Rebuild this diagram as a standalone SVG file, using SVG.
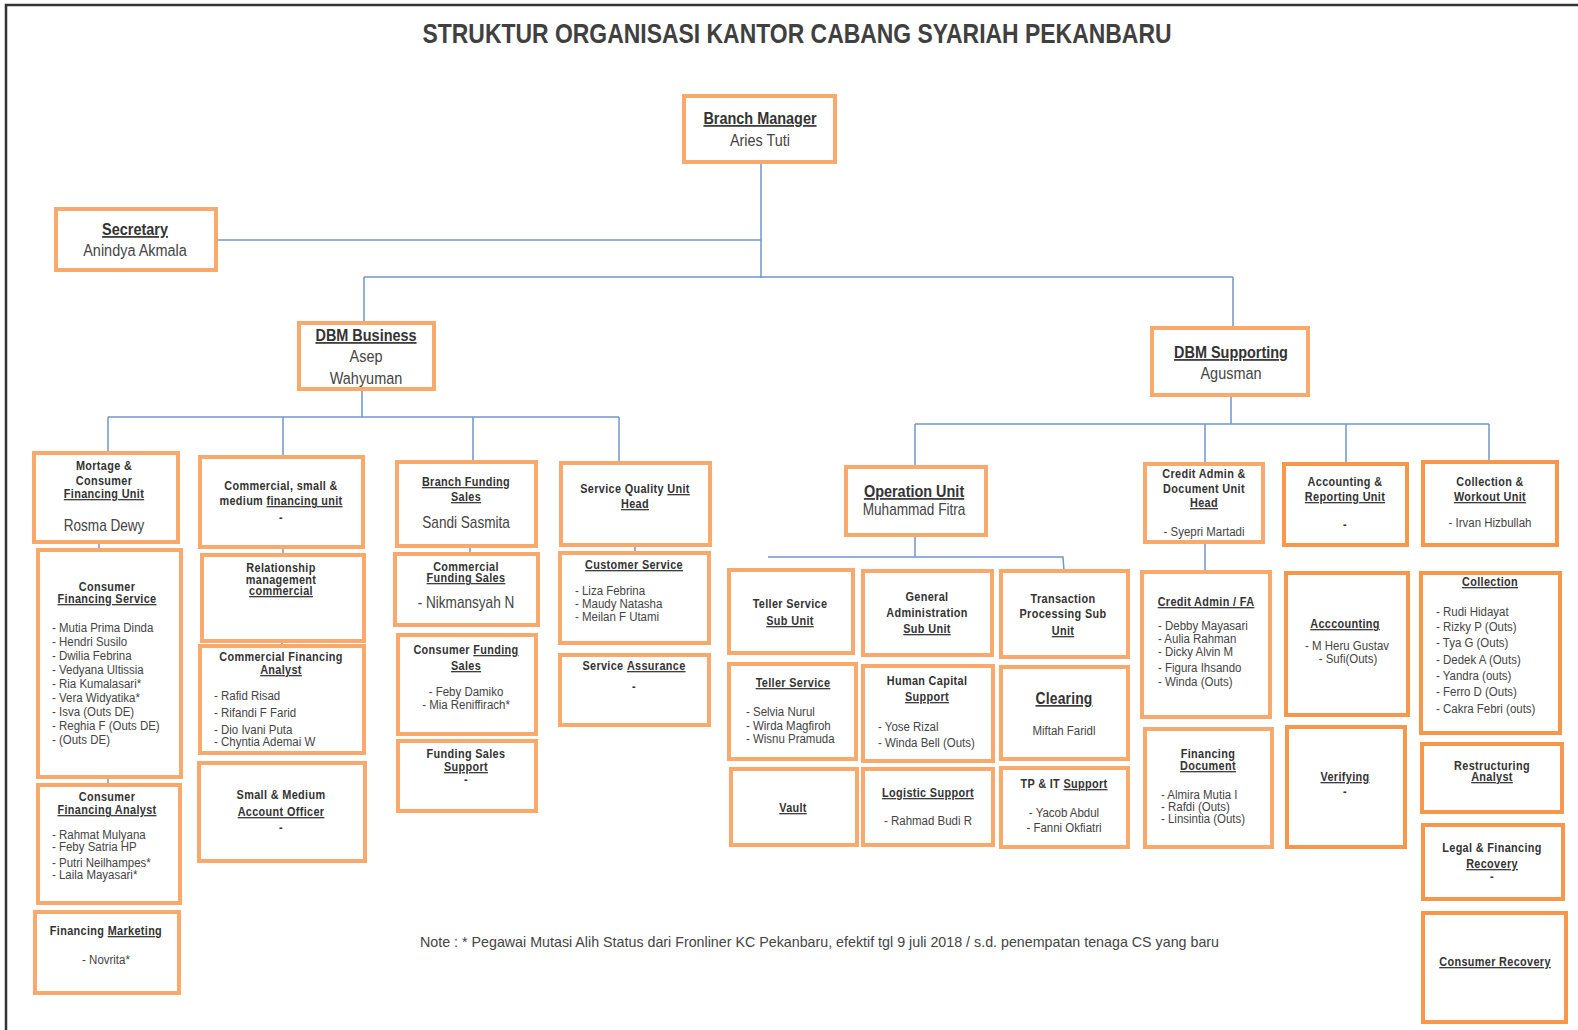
<svg xmlns="http://www.w3.org/2000/svg" width="1578" height="1030" viewBox="0 0 1578 1030">
<style>
.box{fill:#fff;stroke:#F8A96B;stroke-width:4}
.dk{stroke:#F7974C}
.ln{stroke:#6F98CC;stroke-width:1.5;fill:none}
text{transform-box:fill-box}
.h{font-family:"Liberation Sans",Arial,sans-serif;font-weight:bold;font-size:12.5px;fill:#333;letter-spacing:0.4px;text-anchor:middle;transform-origin:50% 50%;transform:scaleX(0.87)}
.n{font-family:"Liberation Sans",Arial,sans-serif;font-size:13.5px;fill:#444;transform-origin:0% 50%;transform:scaleX(0.85)}
.c{text-anchor:middle;transform-origin:50% 50%}
.big{font-size:17px;transform:scaleX(0.85)}
.mid{font-size:16px}
.u{text-decoration:underline}
</style>
<rect width="1578" height="1030" fill="#fff"/>
<path d="M6,1030 V5 H1578" fill="none" stroke="#333" stroke-width="2.5"/>
<text x="797" y="43" font-family="'Liberation Sans',Arial,sans-serif" font-weight="bold" font-size="28" fill="#404040" text-anchor="middle" textLength="749" lengthAdjust="spacingAndGlyphs">STRUKTUR ORGANISASI KANTOR CABANG SYARIAH PEKANBARU</text>

<g id="connectors">
<path class="ln" d="M761,162 V278 M216,240 H761 M364,277 H1233 M364,277 V323 M1233,277 V328"/>
<path class="ln" d="M362,389 V417 M108,417 H619 M108,417 V453 M283,417 V457 M473,417 V462 M619,417 V468"/>
<path class="ln" d="M99,542 V552 M108,777 V785 M283,547 V558 M282,641 V646 M470,532 V563 M470,739 V762 M635,545 V553"/>
<path class="ln" d="M1231,395 V424 M915,424 H1489 M915,424 V467 M1205,424 V464 M1346,424 V464 M1489,424 V462"/>
<path class="ln" d="M915,535 V557 M768,557 H1063 L1064,571 M1205,542 V573"/>
</g>

<g id="branch-manager">
<rect class="box" x="684" y="96" width="151" height="66"/>
<text class="h big u" x="760" y="124" style="letter-spacing:0">Branch Manager</text>
<text class="n big c" x="760" y="146">Aries  Tuti</text>
</g>
<g id="secretary">
<rect class="box" x="56" y="209" width="160" height="61"/>
<text class="h big u" x="135" y="235" style="letter-spacing:0">Secretary</text>
<text class="n big c" x="135" y="256">Anindya Akmala</text>
</g>
<g id="dbm-business">
<rect class="box" x="299" y="323" width="135" height="66"/>
<text class="h big u" x="366" y="341" style="letter-spacing:0">DBM Business</text>
<text class="n big c" x="366" y="362">Asep</text>
<text class="n big c" x="366" y="384">Wahyuman</text>
</g>
<g id="dbm-supporting">
<rect class="box" x="1152" y="328" width="156" height="67"/>
<text class="h big u" x="1231" y="358" style="letter-spacing:0">DBM Supporting</text>
<text class="n big c" x="1231" y="379">Agusman</text>
</g>

<g id="mortgage-unit">
<rect class="box" x="34" y="453" width="144" height="89"/>
<text class="h" x="104" y="470">Mortage &amp;</text>
<text class="h" x="104" y="485">Consumer</text>
<text class="h u" x="104" y="498">Financing Unit</text>
<text class="n mid c" x="104" y="531">Rosma Dewy</text>
</g>
<g id="consumer-financing-service">
<rect class="box" x="38" y="550" width="143" height="227"/>
<text class="h" x="107" y="591">Consumer</text>
<text class="h u" x="107" y="603">Financing Service</text>
<text class="n" x="52" y="632">- Mutia Prima Dinda</text>
<text class="n" x="52" y="646">- Hendri  Susilo</text>
<text class="n" x="52" y="660">- Dwilia Febrina</text>
<text class="n" x="52" y="674">- Vedyana  Ultissia</text>
<text class="n" x="52" y="688">- Ria Kumalasari*</text>
<text class="n" x="52" y="702">- Vera  Widyatika*</text>
<text class="n" x="52" y="716">- Isva (Outs  DE)</text>
<text class="n" x="52" y="730">- Reghia  F (Outs  DE)</text>
<text class="n" x="52" y="744">- (Outs  DE)</text>
</g>
<g id="consumer-financing-analyst">
<rect class="box" x="38" y="785" width="142" height="118"/>
<text class="h" x="107" y="801">Consumer</text>
<text class="h u" x="107" y="814">Financing Analyst</text>
<text class="n" x="52" y="839">- Rahmat  Mulyana</text>
<text class="n" x="52" y="851">- Feby Satria  HP</text>
<text class="n" x="52" y="867">- Putri  Neilhampes*</text>
<text class="n" x="52" y="879">- Laila Mayasari*</text>
</g>
<g id="financing-marketing">
<rect class="box" x="35" y="912" width="144" height="81"/>
<text class="h" x="106" y="935">Financing <tspan class="u">Marketing</tspan></text>
<text class="n c" x="106" y="964">- Novrita*</text>
</g>

<g id="commercial-unit">
<rect class="box" x="200" y="457" width="163" height="90"/>
<text class="h" x="281" y="490">Commercial, small &amp;</text>
<text class="h" x="281" y="505">medium <tspan class="u">financing unit</tspan></text>
<text class="h" x="281" y="522">-</text>
</g>
<g id="relationship-management">
<rect class="box" x="202" y="555" width="162" height="86"/>
<text class="h" x="281" y="572">Relationship</text>
<text class="h" x="281" y="584">management</text>
<text class="h u" x="281" y="595">commercial</text>
</g>
<g id="commercial-financing-analyst">
<rect class="box" x="200" y="646" width="164" height="107"/>
<text class="h" x="281" y="661">Commercial Financing</text>
<text class="h u" x="281" y="674">Analyst</text>
<text class="n" x="214" y="700">- Rafid  Risad</text>
<text class="n" x="214" y="717">- Rifandi  F Farid</text>
<text class="n" x="214" y="734">- Dio Ivani  Puta</text>
<text class="n" x="214" y="746">- Chyntia  Ademai  W</text>
</g>
<g id="account-officer">
<rect class="box" x="199" y="763" width="166" height="98"/>
<text class="h" x="281" y="799">Small &amp; Medium</text>
<text class="h u" x="281" y="816">Account Officer</text>
<text class="h" x="281" y="832">-</text>
</g>

<g id="branch-funding-sales">
<rect class="box" x="397" y="462" width="139" height="84"/>
<text class="h u" x="466" y="486">Branch Funding</text>
<text class="h u" x="466" y="501">Sales</text>
<text class="n mid c" x="466" y="528">Sandi Sasmita</text>
</g>
<g id="commercial-funding-sales">
<rect class="box" x="395" y="554" width="143" height="71"/>
<text class="h" x="466" y="571">Commercial</text>
<text class="h u" x="466" y="582">Funding Sales</text>
<text class="n mid c" x="466" y="608">- Nikmansyah N</text>
</g>
<g id="consumer-funding-sales">
<rect class="box" x="398" y="635" width="138" height="99"/>
<text class="h" x="466" y="654">Consumer <tspan class="u">Funding</tspan></text>
<text class="h u" x="466" y="670">Sales</text>
<text class="n c" x="466" y="696">- Feby Damiko</text>
<text class="n c" x="466" y="709">- Mia Reniffirach*</text>
</g>
<g id="funding-sales-support">
<rect class="box" x="398" y="741" width="138" height="70"/>
<text class="h" x="466" y="758">Funding Sales</text>
<text class="h u" x="466" y="771">Support</text>
<text class="h" x="466" y="784">-</text>
</g>

<g id="service-quality-head">
<rect class="box" x="561" y="463" width="149" height="82"/>
<text class="h" x="635" y="493">Service Quality <tspan class="u">Unit</tspan></text>
<text class="h u" x="635" y="508">Head</text>
</g>
<g id="customer-service">
<rect class="box" x="560" y="553" width="149" height="90"/>
<text class="h u" x="634" y="569">Customer Service</text>
<text class="n" x="575" y="595">- Liza Febrina</text>
<text class="n" x="575" y="608">- Maudy  Natasha</text>
<text class="n" x="575" y="621">- Meilan F Utami</text>
</g>
<g id="service-assurance">
<rect class="box" x="560" y="655" width="149" height="70"/>
<text class="h" x="634" y="670">Service <tspan class="u">Assurance</tspan></text>
<text class="h" x="634" y="691">-</text>
</g>

<g id="operation-unit">
<rect class="box" x="846" y="467" width="140" height="68"/>
<text class="h big u" x="914" y="497" style="letter-spacing:0">Operation Unit</text>
<text class="n mid c" x="914" y="515">Muhammad Fitra</text>
</g>
<g id="teller-service-sub-unit">
<rect class="box" x="729" y="570" width="124" height="83"/>
<text class="h" x="790" y="608">Teller Service</text>
<text class="h u" x="790" y="625">Sub Unit</text>
</g>
<g id="general-administration">
<rect class="box" x="863" y="571" width="129" height="84"/>
<text class="h" x="927" y="601">General</text>
<text class="h" x="927" y="617">Administration</text>
<text class="h u" x="927" y="633">Sub Unit</text>
</g>
<g id="transaction-processing">
<rect class="box" x="1001" y="571" width="127" height="86"/>
<text class="h" x="1063" y="603">Transaction</text>
<text class="h" x="1063" y="618">Processing Sub</text>
<text class="h u" x="1063" y="635">Unit</text>
</g>
<g id="teller-service">
<rect class="box" x="729" y="664" width="127" height="95"/>
<text class="h u" x="793" y="687">Teller Service</text>
<text class="n" x="746" y="716">- Selvia Nurul</text>
<text class="n" x="746" y="730">- Wirda  Magfiroh</text>
<text class="n" x="746" y="743">- Wisnu  Pramuda</text>
</g>
<g id="human-capital-support">
<rect class="box" x="863" y="666" width="130" height="95"/>
<text class="h" x="927" y="685">Human Capital</text>
<text class="h u" x="927" y="701">Support</text>
<text class="n" x="878" y="731">- Yose Rizal</text>
<text class="n" x="878" y="747">- Winda Bell (Outs)</text>
</g>
<g id="clearing">
<rect class="box" x="1001" y="667" width="127" height="92"/>
<text class="h mid u" x="1064" y="704" style="letter-spacing:0.2px">Clearing</text>
<text class="n c" x="1064" y="735">Miftah  Faridl</text>
</g>
<g id="vault">
<rect class="box" x="731" y="769" width="126" height="76"/>
<text class="h u" x="793" y="812">Vault</text>
</g>
<g id="logistic-support">
<rect class="box" x="863" y="769" width="130" height="76"/>
<text class="h u" x="928" y="797">Logistic Support</text>
<text class="n c" x="928" y="825">- Rahmad  Budi R</text>
</g>
<g id="tp-it-support">
<rect class="box" x="1001" y="768" width="127" height="79"/>
<text class="h" x="1064" y="788">TP &amp; IT <tspan class="u">Support</tspan></text>
<text class="n c" x="1064" y="817">- Yacob Abdul</text>
<text class="n c" x="1064" y="832">- Fanni Okfiatri</text>
</g>

<g id="credit-admin-head">
<rect class="box" x="1145" y="464" width="118" height="78"/>
<text class="h" x="1204" y="478">Credit Admin &amp;</text>
<text class="h" x="1204" y="493">Document Unit</text>
<text class="h u" x="1204" y="507">Head</text>
<text class="n c" x="1204" y="536">- Syepri Martadi</text>
</g>
<g id="credit-admin-fa">
<rect class="box" x="1142" y="572" width="128" height="145"/>
<text class="h u" x="1206" y="606">Credit Admin / FA</text>
<text class="n" x="1158" y="630">- Debby  Mayasari</text>
<text class="n" x="1158" y="643">- Aulia Rahman</text>
<text class="n" x="1158" y="656">- Dicky Alvin M</text>
<text class="n" x="1158" y="672">- Figura Ihsando</text>
<text class="n" x="1158" y="686">- Winda (Outs)</text>
</g>
<g id="financing-document">
<rect class="box" x="1145" y="729" width="127" height="118"/>
<text class="h" x="1208" y="758">Financing</text>
<text class="h u" x="1208" y="770">Document</text>
<text class="n" x="1161" y="799">- Almira Mutia  I</text>
<text class="n" x="1161" y="811">- Rafdi  (Outs)</text>
<text class="n" x="1161" y="823">- Linsintia (Outs)</text>
</g>
<g id="accounting-reporting">
<rect class="box dk" x="1284" y="464" width="123" height="81"/>
<text class="h" x="1345" y="486">Accounting &amp;</text>
<text class="h u" x="1345" y="501">Reporting Unit</text>
<text class="h" x="1345" y="529">-</text>
</g>
<g id="accounting">
<rect class="box dk" x="1286" y="573" width="122" height="142"/>
<text class="h u" x="1345" y="628">Acccounting</text>
<text class="n c" x="1347" y="650">- M Heru  Gustav</text>
<text class="n c" x="1348" y="663">- Sufi(Outs)</text>
</g>
<g id="verifying">
<rect class="box dk" x="1287" y="727" width="118" height="120"/>
<text class="h u" x="1345" y="781">Verifying</text>
<text class="h" x="1345" y="796">-</text>
</g>
<g id="collection-workout">
<rect class="box dk" x="1423" y="462" width="134" height="83"/>
<text class="h" x="1490" y="486">Collection &amp;</text>
<text class="h u" x="1490" y="501">Workout Unit</text>
<text class="n c" x="1490" y="527">- Irvan Hizbullah</text>
</g>
<g id="collection">
<rect class="box dk" x="1421" y="573" width="139" height="160"/>
<text class="h u" x="1490" y="586">Collection</text>
<text class="n" x="1436" y="616">- Rudi  Hidayat</text>
<text class="n" x="1436" y="631">- Rizky P (Outs)</text>
<text class="n" x="1436" y="647">- Tya G (Outs)</text>
<text class="n" x="1436" y="664">- Dedek  A (Outs)</text>
<text class="n" x="1436" y="680">- Yandra  (outs)</text>
<text class="n" x="1436" y="696">- Ferro  D  (Outs)</text>
<text class="n" x="1436" y="713">- Cakra  Febri  (outs)</text>
</g>
<g id="restructuring-analyst">
<rect class="box dk" x="1422" y="744" width="140" height="68"/>
<text class="h" x="1492" y="770">Restructuring</text>
<text class="h u" x="1492" y="781">Analyst</text>
</g>
<g id="legal-financing-recovery">
<rect class="box dk" x="1423" y="825" width="140" height="74"/>
<text class="h" x="1492" y="852">Legal &amp; Financing</text>
<text class="h u" x="1492" y="868">Recovery</text>
<text class="h" x="1492" y="881">-</text>
</g>
<g id="consumer-recovery">
<rect class="box dk" x="1423" y="913" width="143" height="109"/>
<text class="h u" x="1495" y="966">Consumer Recovery</text>
</g>

<text x="420" y="947" font-family="'Liberation Sans',Arial,sans-serif" font-size="15" fill="#444" textLength="799" lengthAdjust="spacingAndGlyphs">Note :  *  Pegawai Mutasi Alih Status dari Fronliner KC Pekanbaru, efektif tgl 9 juli 2018 / s.d. penempatan tenaga CS yang baru</text>
</svg>
